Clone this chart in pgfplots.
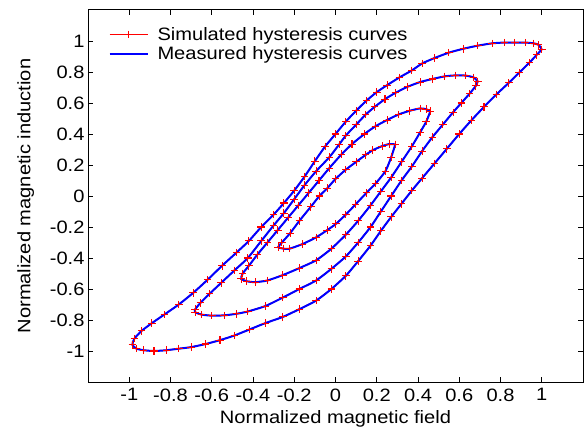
\documentclass[border=0pt]{standalone}
\usepackage{fontspec}
\setmainfont{Liberation Sans}[FakeStretch=1.12]
\usepackage{pgfplots}
\usepackage{pgfplotstable}
\pgfplotsset{compat=1.18}

% major loop: descending branch, then ascending branch
\pgfplotstableread{
x y
1.00 0.945
0.985 0.975
0.96 0.985
0.92 0.99
0.87 0.99
0.82 0.99
0.76 0.985
0.69 0.97
0.62 0.95
0.55 0.925
0.48 0.89
0.42 0.855
0.37 0.81
0.31 0.765
0.25 0.715
0.20 0.67
0.15 0.615
0.10 0.55
0.05 0.48
0.00 0.40
-0.05 0.32
-0.10 0.225
-0.15 0.125
-0.20 0.035
-0.25 -0.045
-0.30 -0.12
-0.36 -0.20
-0.42 -0.29
-0.48 -0.365
-0.55 -0.45
-0.62 -0.54
-0.69 -0.625
-0.76 -0.70
-0.83 -0.765
-0.89 -0.82
-0.94 -0.87
-0.975 -0.92
-0.985 -0.96
-0.965 -0.985
-0.93 -0.995
-0.88 -1.0
-0.82 -0.995
-0.76 -0.985
-0.70 -0.975
-0.63 -0.955
-0.56 -0.93
-0.49 -0.90
-0.415 -0.86
-0.34 -0.82
-0.255 -0.78
-0.175 -0.73
-0.094 -0.675
-0.02 -0.60
0.05 -0.515
0.11 -0.42
0.17 -0.32
0.22 -0.225
0.27 -0.135
0.32 -0.05
0.37 0.035
0.42 0.115
0.48 0.21
0.54 0.305
0.60 0.40
0.66 0.49
0.72 0.575
0.78 0.655
0.84 0.73
0.89 0.795
0.94 0.86
0.975 0.91
1.00 0.945
}\loopA

\pgfplotstableread{
x y
0.69 0.74
0.67 0.765
0.63 0.777
0.58 0.778
0.53 0.772
0.47 0.755
0.41 0.735
0.35 0.705
0.29 0.665
0.24 0.625
0.19 0.575
0.146 0.525
0.10 0.46
0.05 0.39
0.018 0.333
-0.03 0.25
-0.094 0.16
-0.15 0.07
-0.20 -0.02
-0.25 -0.11
-0.30 -0.19
-0.36 -0.29
-0.425 -0.40
-0.49 -0.48
-0.554 -0.56
-0.61 -0.63
-0.655 -0.69
-0.68 -0.73
-0.68 -0.75
-0.65 -0.765
-0.60 -0.772
-0.54 -0.77
-0.48 -0.76
-0.425 -0.745
-0.34 -0.71
-0.255 -0.655
-0.175 -0.60
-0.094 -0.545
-0.02 -0.47
0.05 -0.39
0.11 -0.30
0.17 -0.20
0.22 -0.10
0.27 0.00
0.32 0.10
0.37 0.19
0.42 0.29
0.47 0.38
0.52 0.46
0.57 0.54
0.61 0.60
0.65 0.66
0.68 0.71
0.69 0.74
}\loopB

\pgfplotstableread{
x y
0.46 0.547
0.44 0.56
0.41 0.565
0.36 0.55
0.306 0.526
0.25 0.49
0.194 0.45
0.14 0.40
0.08 0.335
0.03 0.27
-0.03 0.18
-0.08 0.10
-0.13 0.02
-0.18 -0.06
-0.23 -0.14
-0.28 -0.22
-0.33 -0.30
-0.38 -0.38
-0.42 -0.45
-0.45 -0.50
-0.457 -0.535
-0.43 -0.55
-0.39 -0.556
-0.33 -0.545
-0.255 -0.51
-0.175 -0.465
-0.094 -0.415
-0.02 -0.34
0.05 -0.25
0.11 -0.16
0.17 -0.06
0.22 0.03
0.27 0.12
0.32 0.22
0.37 0.32
0.41 0.41
0.44 0.48
0.46 0.547
}\loopC

\pgfplotstableread{
x y
0.29 0.333
0.26 0.335
0.226 0.322
0.18 0.295
0.146 0.265
0.10 0.22
0.05 0.17
0.00 0.11
-0.04 0.05
-0.078 0.00
-0.12 -0.07
-0.175 -0.16
-0.22 -0.24
-0.26 -0.30
-0.278 -0.33
-0.25 -0.34
-0.223 -0.34
-0.16 -0.31
-0.094 -0.267
-0.04 -0.22
0.002 -0.18
0.05 -0.12
0.098 -0.053
0.15 0.02
0.194 0.08
0.242 0.16
0.27 0.25
0.29 0.333
}\loopD

\pgfplotsset{
    sim/.style={color=red, line width=1.2pt, mark=+, mark size=3.8pt,
        mark options={solid, line width=1.1pt}},
    meas/.style={color=blue, line width=2pt, smooth, tension=0.4},
}

\begin{document}
\begin{tikzpicture}
\begin{axis}[
    scale only axis,
    width=495bp, height=372bp,
    xmin=-1.2, xmax=1.2, ymin=-1.2, ymax=1.2,
    xtick={-1,-0.8,-0.6,-0.4,-0.2,0,0.2,0.4,0.6,0.8,1},
    ytick={-1,-0.8,-0.6,-0.4,-0.2,0,0.2,0.4,0.6,0.8,1},
    tick align=inside,
    major tick length=5bp,
    every tick/.style={black, line width=0.8pt},
    axis line style={line width=1pt},
    /pgf/number format/assume math mode=true,
    tick label style={font=\fontsize{18}{20}\selectfont},
    xticklabel style={yshift=-3bp},
    label style={font=\fontsize{18}{20}\selectfont},
    xlabel={Normalized magnetic field},
    ylabel={Normalized magnetic induction},
    xlabel style={yshift=-2bp},
    ylabel style={yshift=9bp},
    legend style={at={(0.035,0.965)}, anchor=north west, draw=none, fill=none,
        font=\fontsize{18}{20}\selectfont, row sep=1bp,
        nodes={inner xsep=9bp}},
    legend cell align=left,
    legend image code/.code={\draw[mark repeat=2, mark phase=2, #1]
        plot coordinates {(0bp,0bp) (19bp,0bp) (38bp,0bp)};},
]
\addplot[sim, forget plot] table {\loopA};
\addplot[sim, forget plot] table {\loopB};
\addplot[sim, forget plot] table {\loopC};
\addplot[sim, forget plot] table {\loopD};
\addplot[meas, forget plot] table {\loopA};
\addplot[meas, forget plot] table {\loopB};
\addplot[meas, forget plot] table {\loopC};
\addplot[meas, forget plot] table {\loopD};
\addlegendimage{color=red, line width=1.2pt, mark=+, mark size=3.8pt, mark options={solid, line width=1.1pt}}
\addlegendentry{Simulated hysteresis curves}
\addlegendimage{color=blue, line width=2pt}
\addlegendentry{Measured hysteresis curves}
\end{axis}
\pgfresetboundingbox
\path (-88bp,-48bp) rectangle (498bp,382bp);
\end{tikzpicture}
\end{document}
